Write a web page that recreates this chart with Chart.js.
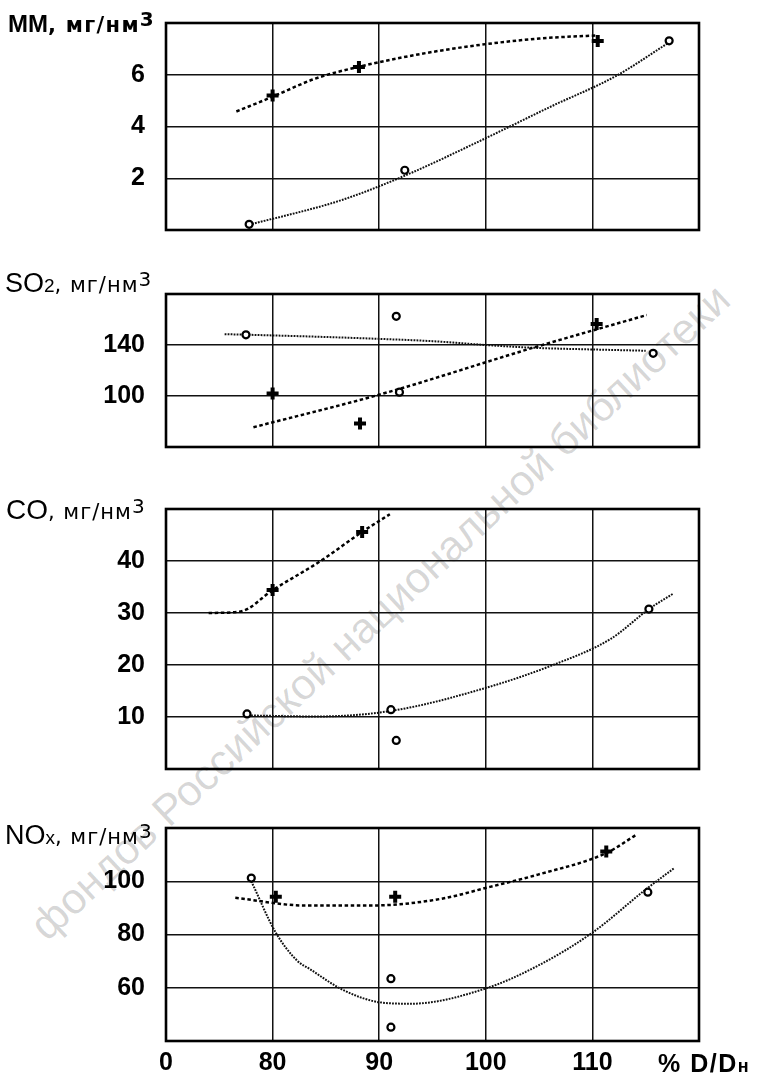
<!DOCTYPE html>
<html><head><meta charset="utf-8">
<script src="https://cdn.jsdelivr.net/npm/chart.js@4.4.0/dist/chart.umd.min.js"></script>
<style>
html,body{margin:0;padding:0;background:#fff;}
#wrap{position:relative;width:762px;height:1081px;overflow:hidden;background:#fff;}
canvas{position:absolute;left:0;}
.ttl{position:absolute;white-space:nowrap;line-height:1;color:#000;font-family:'Liberation Sans',Arial,sans-serif;}
.u{font-family:'DejaVu Sans',sans-serif;font-size:21px;letter-spacing:1px;}
.sup{position:relative;top:-6px;font-size:20px;}
.wm{position:absolute;left:380px;top:612px;transform:translate(-50%,-50%) rotate(-43deg);white-space:nowrap;
    font-family:'Liberation Sans',Arial,sans-serif;font-size:43px;color:rgba(0,0,0,0.17);}
</style></head><body>
<div id="wrap">
  <div class="wm">фондов Российской национальной библиотеки</div>
  <canvas id="c1"></canvas>
  <canvas id="c2"></canvas>
  <canvas id="c3"></canvas>
  <canvas id="c4"></canvas>
  <div class="ttl" style="left:8px;top:12px;font-size:24px;font-weight:bold;">MM<span class="u" style="font-weight:bold;font-size:21px;letter-spacing:1.3px;">, мг/нм</span><span class="u sup" style="font-weight:bold;">3</span></div>
  <div class="ttl" style="left:5px;top:270px;font-size:27px;">SO<span style="font-size:19px;">2</span><span class="u">, мг/нм</span><span class="u sup">3</span></div>
  <div class="ttl" style="left:6px;top:496px;font-size:28px;">CO<span class="u">, мг/нм</span><span class="u sup">3</span></div>
  <div class="ttl" style="left:5px;top:822px;font-size:27px;">NO<span style="font-size:19px;">x</span><span class="u">, мг/нм</span><span class="u sup">3</span></div>
  <div class="ttl" style="left:658px;top:1051px;font-size:25px;font-weight:bold;letter-spacing:1.5px;">% D/D<span style="font-size:18px;">н</span></div>
</div>
<script>
// ---- x axis (shared) ----
const xTickValues = [70, 80, 90, 100, 110, 120];
const xTickLabels = ['0', '80', '90', '100', '110', ''];

// ---- MM ----
const mmYTicks = [2, 4, 6];
const mmPlusX = [80.0, 88.1, 110.5];
const mmPlusY = [5.2, 6.3, 7.3];
const mmPlusFitX = [76.6, 80, 84, 88, 96, 105, 110.5];
const mmPlusFitY = [4.58, 5.15, 5.85, 6.3, 6.95, 7.4, 7.52];
const mmCircX = [77.8, 92.4, 117.2];
const mmCircY = [0.22, 2.31, 7.31];
const mmCircFitX = [77.8, 86.5, 92.4, 100, 106, 112.2, 117.2];
const mmCircFitY = [0.2, 1.16, 2.1, 3.55, 4.75, 5.95, 7.25];

// ---- SO2 ----
const so2YTicks = [100, 140];
const so2PlusX = [80, 88.2, 110.4];
const so2PlusY = [102, 78.5, 156.5];
const so2PlusFitX = [78.2, 90.2, 104.7, 115.1];
const so2PlusFitY = [75.5, 101.5, 138.5, 163.5];
const so2CircX = [77.5, 91.6, 91.9, 115.7];
const so2CircY = [148, 162.5, 103, 133.5];
const so2CircFitX = [75.5, 83, 90, 95, 100, 104.5, 110, 115];
const so2CircFitY = [148.5, 146.8, 144.8, 143, 140, 137.8, 136.5, 135.5];

// ---- CO ----
const coYTicks = [10, 20, 30, 40];
const coPlusX = [80, 88.4];
const coPlusY = [34.4, 45.6];
const coPlusFitX = [74, 77, 80, 84.5, 88.4, 91];
const coPlusFitY = [30, 30.3, 34.4, 40, 45.6, 49];
const coCircX = [77.6, 91.1, 91.6, 115.3];
const coCircY = [10.6, 11.4, 5.5, 30.75];
const coCircFitX = [77.7, 84, 91.2, 100, 106.3, 111.7, 115.4, 117.6];
const coCircFitY = [10.3, 10.1, 11.2, 15.6, 20, 25, 30.9, 33.75];

// ---- NOx ----
const noxYTicks = [60, 80, 100];
const noxPlusX = [80.3, 91.5, 111.3];
const noxPlusY = [94.2, 94.2, 111.2];
const noxPlusFitX = [76.5, 83, 89.4, 95.8, 100.4, 104.9, 111.3, 114.1];
const noxPlusFitY = [93.8, 90.9, 90.9, 93.4, 97.9, 102.5, 110.6, 117.4];
const noxCircX = [78, 91.1, 91.1, 115.2];
const noxCircY = [101.2, 63.4, 45.2, 95.9];
const noxCircFitX = [78, 80.3, 82.3, 83.5, 86.7, 90.3, 93, 99.9, 104.9, 110, 115, 117.7];
const noxCircFitY = [100, 80.7, 70.2, 67, 59, 54.4, 54, 59.6, 68.3, 80.7, 96.9, 105];

function pts(xs, ys) { return xs.map((x, i) => ({ x: x, y: ys[i] })); }

const boxPlugin = {
  id: 'box',
  beforeDatasetsDraw(chart) {
    const a = chart.chartArea, c = chart.ctx;
    c.save();
    c.strokeStyle = '#000';
    c.lineWidth = 2.6;
    c.strokeRect(a.left, a.top, a.right - a.left, a.bottom - a.top);
    c.restore();
  }
};

function makeChart(id, top, height, yMin, yMax, yStep, yShown, d, bottom) {
  const cv = document.getElementById(id);
  cv.width = 762; cv.height = height;
  cv.style.top = top + 'px';
  const tickFont = { family: "'Liberation Sans', Arial, sans-serif", size: 25, weight: 'bold' };
  new Chart(cv, {
    type: 'scatter',
    data: {
      datasets: [
        { data: pts(d.px, d.py), showLine: false, pointStyle: 'cross', pointRadius: 6,
          pointBorderWidth: 4, borderColor: '#000', backgroundColor: '#000' },
        { data: pts(d.cx, d.cy), showLine: false, pointStyle: 'circle', pointRadius: 3.5,
          pointBorderWidth: 2.2, borderColor: '#000', backgroundColor: '#fff' },
        { data: pts(d.pfx, d.pfy), showLine: true, pointRadius: 0, borderColor: '#000',
          borderWidth: 2.5, borderDash: [3.5, 2.6], cubicInterpolationMode: 'monotone', fill: false },
        { data: pts(d.cfx, d.cfy), showLine: true, pointRadius: 0, borderColor: '#111',
          borderWidth: 2, borderDash: [1.8, 1.2], cubicInterpolationMode: 'monotone', fill: false }
      ]
    },
    options: {
      responsive: false,
      animation: false,
      devicePixelRatio: 1,
      layout: { padding: { left: 0, right: 63, top: 10, bottom: 0 } },
      plugins: { legend: { display: false }, tooltip: { enabled: false } },
      scales: {
        x: {
          type: 'linear', min: 70, max: 120,
          afterBuildTicks(s) { s.ticks = xTickValues.map(v => ({ value: v })); },
          ticks: {
            display: bottom, font: tickFont, color: '#000', padding: 7, maxRotation: 0, autoSkip: false,
            callback(v) { const i = xTickValues.indexOf(v); return i >= 0 ? xTickLabels[i] : ''; }
          },
          grid: { color: '#111', lineWidth: 1.5, drawTicks: false },
          border: { display: false },
          afterFit(s) { s.height = bottom ? 40 : 5; s.paddingLeft = 0; s.paddingRight = 0; }
        },
        y: {
          type: 'linear', min: yMin, max: yMax,
          ticks: {
            stepSize: yStep, font: tickFont, color: '#000', padding: 21,
            callback(v) { return yShown.indexOf(v) >= 0 ? String(v) : ''; }
          },
          grid: { color: '#111', lineWidth: 1.5, drawTicks: false },
          border: { display: false },
          afterFit(s) { s.width = 166; s.paddingTop = 0; s.paddingBottom = 0; }
        }
      }
    },
    plugins: [boxPlugin]
  });
}

makeChart('c1', 13, 227, 0, 8, 2, mmYTicks,
  { px: mmPlusX, py: mmPlusY, cx: mmCircX, cy: mmCircY, pfx: mmPlusFitX, pfy: mmPlusFitY, cfx: mmCircFitX, cfy: mmCircFitY }, false);
makeChart('c2', 284, 173, 60, 180, 40, so2YTicks,
  { px: so2PlusX, py: so2PlusY, cx: so2CircX, cy: so2CircY, pfx: so2PlusFitX, pfy: so2PlusFitY, cfx: so2CircFitX, cfy: so2CircFitY }, false);
makeChart('c3', 499, 280, 0, 50, 10, coYTicks,
  { px: coPlusX, py: coPlusY, cx: coCircX, cy: coCircY, pfx: coPlusFitX, pfy: coPlusFitY, cfx: coCircFitX, cfy: coCircFitY }, false);
makeChart('c4', 818, 263, 40, 120, 20, noxYTicks,
  { px: noxPlusX, py: noxPlusY, cx: noxCircX, cy: noxCircY, pfx: noxPlusFitX, pfy: noxPlusFitY, cfx: noxCircFitX, cfy: noxCircFitY }, true);
</script>
</body></html>
